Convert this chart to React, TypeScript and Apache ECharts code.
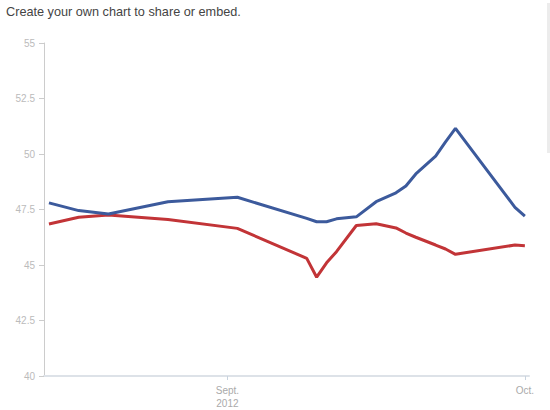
import { useEffect, useRef } from "react";
import * as echarts from "echarts";

// poll dates (2012) and the two series
const dates = [
  "2012-08-14", "2012-08-17", "2012-08-20", "2012-08-26", "2012-09-02",
  "2012-09-09", "2012-09-10", "2012-09-11", "2012-09-12", "2012-09-14",
  "2012-09-16", "2012-09-18", "2012-09-19", "2012-09-20", "2012-09-22",
  "2012-09-23", "2012-09-24", "2012-09-30", "2012-10-01",
];
const blueValues = [
  47.8, 47.45, 47.3, 47.85, 48.05,
  47.1, 46.95, 46.95, 47.08, 47.17,
  47.85, 48.25, 48.56, 49.1, 49.9,
  50.55, 51.15, 47.6, 47.2,
];
const redValues = [
  46.85, 47.15, 47.25, 47.05, 46.65,
  45.3, 44.45, 45.1, 45.6, 46.78,
  46.86, 46.67, 46.44, 46.25, 45.9,
  45.72, 45.48, 45.9, 45.87,
];
const xTickDates = ["2012-09-01", "2012-10-01"];
const xTickLabels = ["Sept.\n2012", "Oct."];
const xRange = ["2012-08-13T12:00:00", "2012-10-01T10:00:00"];

const ts = (d: string) => new Date(d.length === 10 ? d + "T00:00:00" : d).getTime();

export default function App() {
  const ref = useRef<HTMLDivElement>(null);

  useEffect(() => {
    if (!ref.current) return;
    const chart = echarts.init(ref.current, undefined, { renderer: "svg" });
    const tickTs = xTickDates.map(ts);
    chart.setOption({
      animation: false,
      backgroundColor: "#fff",
      textStyle: { fontFamily: "Liberation Sans, Arial, sans-serif" },
      title: {
        text: "Create your own chart to share or embed.",
        left: 1,
        top: 0,
        textStyle: { fontSize: 12.7, fontWeight: "normal", color: "#444", fontFamily: "Liberation Sans, Arial, sans-serif" },
      },
      grid: { left: 44, right: 21, top: 43, bottom: 31 },
      xAxis: {
        type: "value",
        min: ts(xRange[0]),
        max: ts(xRange[1]),
        axisLine: { lineStyle: { color: "#dde2e8", width: 2 } },
        axisTick: { customValues: tickTs, length: 4, lineStyle: { color: "#c9d3de" } },
        axisLabel: {
          customValues: tickTs,
          color: "#aaa",
          fontSize: 10,
          lineHeight: 13,
          margin: 8,
          formatter: (v: number) => {
            const i = tickTs.findIndex((t) => Math.abs(t - v) < 3600 * 1000);
            return i >= 0 ? xTickLabels[i] : "";
          },
        },
        splitLine: { show: false },
      },
      yAxis: {
        type: "value",
        min: 40,
        max: 55,
        interval: 2.5,
        axisLine: { show: true, lineStyle: { color: "#ccc", width: 1 } },
        axisTick: { show: true, length: 5, lineStyle: { color: "#ccc" } },
        axisLabel: { color: "#bbb", fontSize: 10, margin: 9 },
        splitLine: { show: false },
      },
      series: [
        {
          type: "line",
          data: dates.map((d, i) => [ts(d), blueValues[i]]),
          showSymbol: false,
          lineStyle: { color: "#3c5a9c", width: 3 },
          itemStyle: { color: "#3c5a9c" },
          z: 3,
        },
        {
          type: "line",
          data: dates.map((d, i) => [ts(d), redValues[i]]),
          showSymbol: false,
          lineStyle: { color: "#c23437", width: 3 },
          itemStyle: { color: "#c23437" },
          z: 2,
        },
      ],
      graphic: [
        { type: "rect", left: 547, top: 3, shape: { width: 3, height: 150 }, style: { fill: "#ececec" }, silent: true },
      ],
    });
    return () => chart.dispose();
  }, []);

  return <div ref={ref} style={{ position: "fixed", left: 0, top: 0, width: 550, height: 410 }} />;
}
